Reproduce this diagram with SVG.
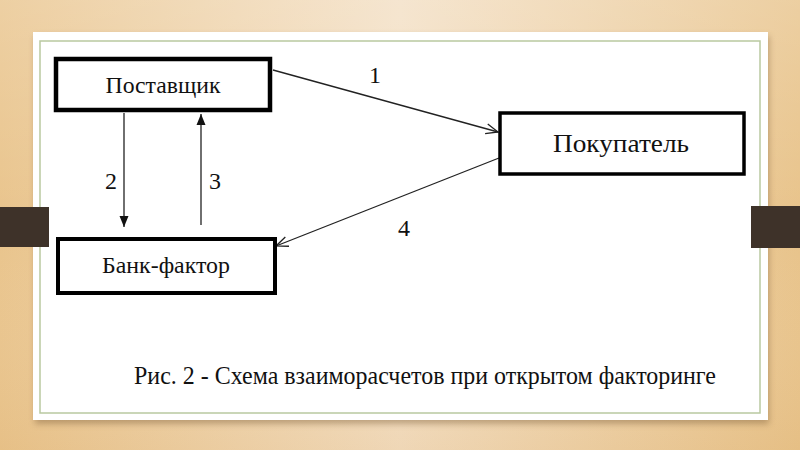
<svg xmlns="http://www.w3.org/2000/svg" width="800" height="450" viewBox="0 0 800 450">
<defs>
<linearGradient id="bg" x1="0" y1="0" x2="1" y2="0">
<stop offset="0" stop-color="#e9c48c"/>
<stop offset="0.5" stop-color="#f3dfc4"/>
<stop offset="1" stop-color="#e8c38a"/>
</linearGradient>
<linearGradient id="bgv" x1="0" y1="0" x2="0" y2="1">
<stop offset="0" stop-color="#ffffff" stop-opacity="0.2"/>
<stop offset="0.5" stop-color="#ffffff" stop-opacity="0"/>
<stop offset="1" stop-color="#d9a866" stop-opacity="0.15"/>
</linearGradient>
<filter id="sh" x="-5%" y="-5%" width="110%" height="115%">
<feGaussianBlur stdDeviation="3"/>
</filter>
<marker id="open" markerWidth="14" markerHeight="12" refX="13" refY="6" orient="auto" markerUnits="userSpaceOnUse">
<path d="M1,1 L13,6 L1,11" fill="none" stroke="#222" stroke-width="1.3"/>
</marker>
<marker id="fill" markerWidth="12" markerHeight="14" refX="11" refY="6" orient="auto" markerUnits="userSpaceOnUse">
<path d="M0,1.5 L11,6 L0,10.5 Z" fill="#111"/>
</marker>
</defs>
<style>
.box{fill:#fff;stroke:#000}
.lbl{font-family:"Liberation Serif","Times New Roman",serif;fill:#111;text-anchor:middle}
.conn{stroke:#222;stroke-width:1.3;fill:none}
</style>
<rect width="800" height="450" fill="url(#bg)"/>
<rect width="800" height="450" fill="url(#bgv)"/>
<rect x="35" y="36" width="734" height="388" fill="#8a6a45" opacity="0.5" filter="url(#sh)"/>
<rect x="33" y="32" width="735" height="388" fill="#ffffff"/>
<rect x="40" y="41" width="720" height="372" fill="none" stroke="#b9c9a0" stroke-width="1.5"/>
<rect x="0" y="207" width="49" height="40" fill="#3e3229"/>
<rect x="751" y="206" width="49" height="42" fill="#3e3229"/>

<g id="connectors">
<line class="conn" x1="273" y1="70" x2="498" y2="132" marker-end="url(#open)"/>
<line class="conn" x1="124" y1="113" x2="124" y2="227" marker-end="url(#fill)"/>
<line class="conn" x1="201" y1="225" x2="201" y2="114" marker-end="url(#fill)"/>
<line class="conn" x1="499" y1="158" x2="276" y2="246" marker-end="url(#open)"/>
<text class="lbl" x="375" y="83" font-size="24">1</text>
<text class="lbl" x="111" y="189" font-size="24">2</text>
<text class="lbl" x="215" y="189" font-size="24">3</text>
<text class="lbl" x="404" y="236" font-size="24">4</text>
</g>

<g id="postavshchik">
<rect class="box" x="56" y="59" width="214" height="51" stroke-width="4.5"/>
<text class="lbl" x="163" y="93" font-size="24" textLength="115" lengthAdjust="spacingAndGlyphs">Поставщик</text>
</g>
<g id="pokupatel">
<rect class="box" x="500" y="113" width="244" height="61" stroke-width="3.5"/>
<text class="lbl" x="621" y="152" font-size="26" textLength="136" lengthAdjust="spacingAndGlyphs">Покупатель</text>
</g>
<g id="bank-factor">
<rect class="box" x="58" y="239" width="217" height="54" stroke-width="4"/>
<text class="lbl" x="166" y="273" font-size="24" textLength="128" lengthAdjust="spacingAndGlyphs">Банк-фактор</text>
</g>

<text class="lbl" x="425" y="384" font-size="26" textLength="582" lengthAdjust="spacingAndGlyphs">Рис. 2 - Схема взаиморасчетов при открытом факторинге</text>
</svg>
